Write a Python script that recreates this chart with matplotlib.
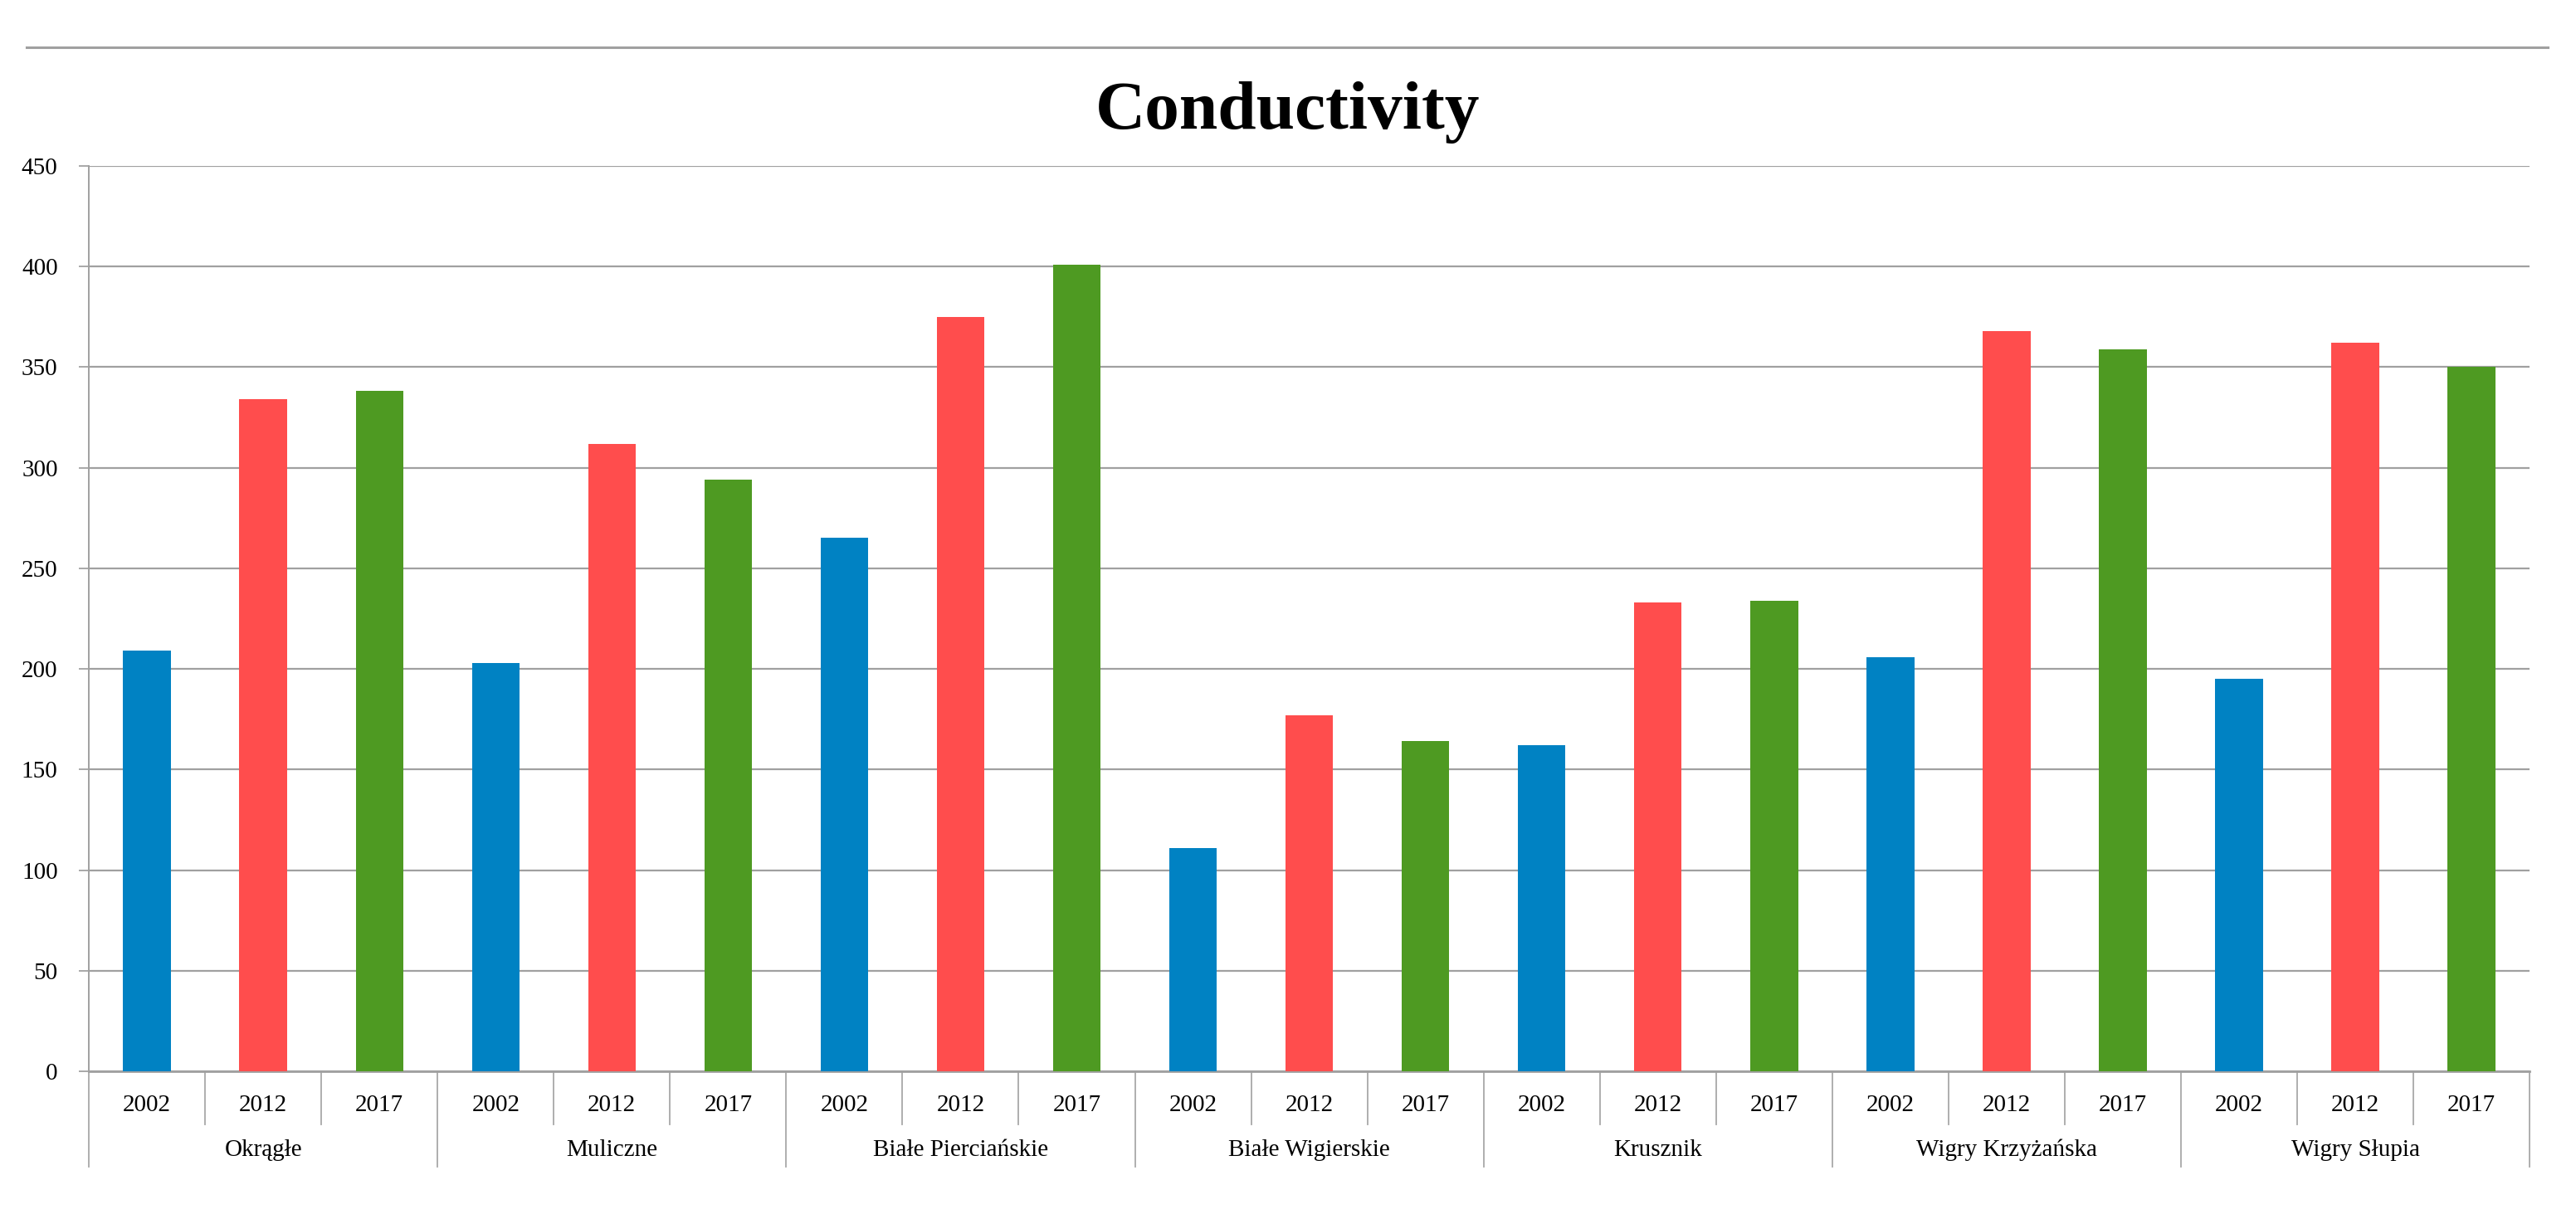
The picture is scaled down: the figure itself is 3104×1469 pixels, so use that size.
import matplotlib.pyplot as plt
import matplotlib.transforms as mtransforms
from matplotlib.lines import Line2D
import numpy as np

# Data
lakes = ["Okrągłe", "Muliczne", "Białe Pierciańskie", "Białe Wigierskie",
         "Krusznik", "Wigry Krzyżańska", "Wigry Słupia"]
years = ["2002", "2012", "2017"]
values_2002 = [209, 203, 265, 111, 162, 206, 195]
values_2012 = [334, 312, 375, 177, 233, 368, 362]
values_2017 = [338, 294, 401, 164, 234, 359, 350]
colors = ["#0082C3", "#FF4D4D", "#4E9A22"]
yticks = [0, 50, 100, 150, 200, 250, 300, 350, 400, 450]

plt.rcParams['font.family'] = ['Liberation Serif', 'DejaVu Serif']

fig = plt.figure(figsize=(31.04, 14.69), dpi=100)
ax = fig.add_axes([0.0345, 0.121, 0.9475, 0.743])

series = [values_2002, values_2012, values_2017]
n_years = len(years)
for i, lake in enumerate(lakes):
    for j in range(n_years):
        pos = i * n_years + j
        ax.bar(pos, series[j][i], width=0.41, color=colors[j], linewidth=0, zorder=3)

n_slots = len(lakes) * n_years
ax.set_xlim(-0.5, n_slots - 0.5)
ax.set_ylim(0, 450)
ax.set_yticks(yticks)
ax.tick_params(axis='y', length=9, width=1.2, color='#999999', pad=18, labelsize=21)
ax.grid(axis='y', color='#A0A0A0', linewidth=1.6, zorder=0)
ax.set_xticks([])

for side in ['top', 'right']:
    ax.spines[side].set_visible(False)
ax.spines['left'].set_color('#A0A0A0')
ax.spines['left'].set_linewidth(1.4)
ax.spines['bottom'].set_color('#A0A0A0')
ax.spines['bottom'].set_linewidth(2.0)

# two level category axis
trans = mtransforms.blended_transform_factory(ax.transData, ax.transAxes)
sep_color = '#A8A8A8'
for k in range(n_slots + 1):
    x = k - 0.5
    bottom = -0.105 if k % n_years == 0 else -0.058
    ax.add_line(Line2D([x, x], [0, bottom], transform=trans, color=sep_color,
                       linewidth=1.3, clip_on=False))
for i, lake in enumerate(lakes):
    for j, yr in enumerate(years):
        ax.text(i * n_years + j, -0.037, yr, transform=trans, ha='center',
                va='center', fontsize=21)
    ax.text(i * n_years + 1, -0.087, lake, transform=trans, ha='center',
            va='center', fontsize=21)

# title and the rule above it
fig.text(0.5, 0.8945, "Conductivity", ha='center', va='baseline',
         fontsize=60, fontweight='bold')
fig.add_artist(Line2D([0.0103, 0.989], [0.961, 0.961], transform=fig.transFigure,
                      color='#A0A0A0', linewidth=2.2))

fig.savefig("out.png", dpi=100, facecolor='white')
